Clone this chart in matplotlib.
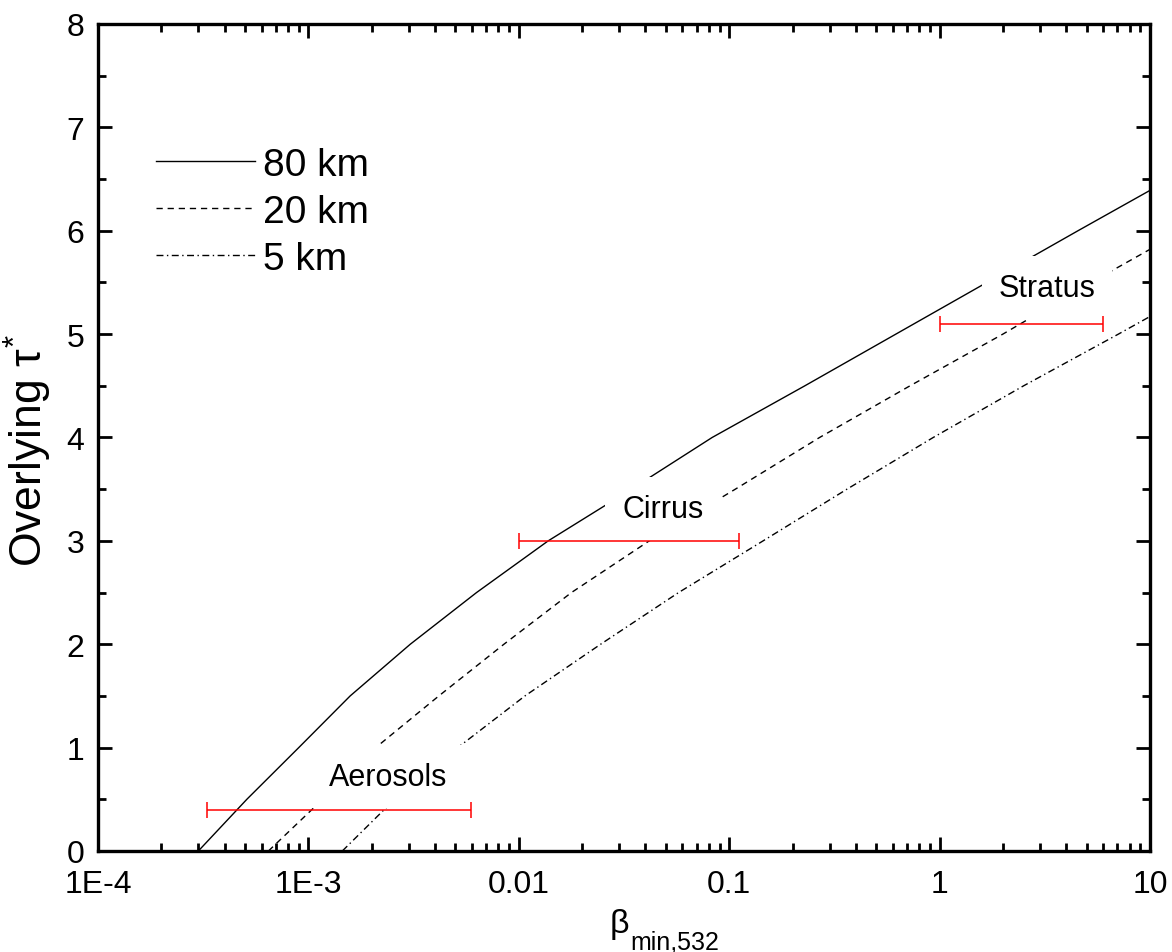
import matplotlib
matplotlib.use("Agg")
import matplotlib.pyplot as plt
from matplotlib.ticker import FixedLocator, FixedFormatter, LogLocator, MultipleLocator, NullFormatter

plt.rcParams['font.family'] = ['Liberation Sans', 'DejaVu Sans']
plt.rcParams['mathtext.fontset'] = 'custom'
plt.rcParams['mathtext.rm'] = 'Liberation Sans'
plt.rcParams['mathtext.it'] = 'Liberation Sans'
plt.rcParams['mathtext.bf'] = 'Liberation Sans:bold'

# Minimum detectable backscatter vs. overlying optical depth, for three altitudes
beta_80km = [3.0e-4, 5.1e-4, 9.0e-4, 1.58e-3, 3.05e-3, 6.3e-3, 1.38e-2, 3.43e-2, 8.3e-2, 0.229, 0.62, 4.55, 10.0]
tau_80km = [0.0, 0.5, 1.0, 1.5, 2.0, 2.5, 3.0, 3.5, 4.0, 4.5, 5.0, 6.0, 6.39]

beta_20km = [6.46e-4, 1.17e-3, 2.09e-3, 4.17e-3, 8.5e-3, 1.78e-2, 4.17e-2, 0.107, 0.269, 0.724, 2.0, 5.25, 10.0]
tau_20km = [0.0, 0.5, 1.0, 1.5, 2.0, 2.5, 3.0, 3.5, 4.0, 4.5, 5.0, 5.5, 5.82]

beta_5km = [1.45e-3, 2.57e-3, 5.13e-3, 1.07e-2, 2.45e-2, 5.75e-2, 0.145, 0.363, 0.933, 2.51, 7.08, 10.0]
tau_5km = [0.0, 0.5, 1.0, 1.5, 2.0, 2.5, 3.0, 3.5, 4.0, 4.5, 5.0, 5.17]

# Typical backscatter ranges of scatterer types
ranges = {
    'Aerosols': (3.3e-4, 5.9e-3, 0.4),
    'Cirrus': (0.01, 0.111, 3.0),
    'Stratus': (1.0, 6.0, 5.1),
}
label_pos = {
    'Aerosols': (2.39e-3, 0.72),
    'Cirrus': (0.0484, 3.31),
    'Stratus': (3.24, 5.45),
}

xtick_vals = [1e-4, 1e-3, 1e-2, 1e-1, 1, 10]
xtick_labels = ['1E-4', '1E-3', '0.01', '0.1', '1', '10']

W, H = 1172, 953
fig = plt.figure(figsize=(W / 100, H / 100), dpi=100)
ax = fig.add_axes([0.0836, 0.106, 0.8976, 0.8678])

ax.plot(beta_80km, tau_80km, color='black', lw=1.0, ls='-', label='80 km', zorder=2)
ax.plot(beta_20km, tau_20km, color='black', lw=1.0, ls=(0, (4.5, 3.5)), label='20 km', zorder=2)
ax.plot(beta_5km, tau_5km, color='black', lw=1.0, ls=(0, (5, 2.5, 1, 2.5)), label='5 km', zorder=2)

for name, (lo, hi, yv) in ranges.items():
    xc = (lo * hi) ** 0.5
    ax.errorbar([xc], [yv], xerr=[[xc - lo], [hi - xc]], fmt='none', ecolor='red',
                elinewidth=1.1, capsize=6, capthick=1.1, zorder=4)
    tx, ty = label_pos[name]
    ax.text(tx, ty, name, fontsize=22, ha='center', va='center', zorder=3,
            bbox=dict(boxstyle='square,pad=0.55', facecolor='white', edgecolor='none'))

ax.set_xscale('log')
ax.set_xlim(1e-4, 10)
ax.set_ylim(0, 8)

ax.xaxis.set_major_locator(FixedLocator(xtick_vals))
ax.xaxis.set_major_formatter(FixedFormatter(xtick_labels))
ax.xaxis.set_minor_locator(LogLocator(base=10, subs=range(2, 10), numticks=20))
ax.xaxis.set_minor_formatter(NullFormatter())
ax.yaxis.set_major_locator(MultipleLocator(1))
ax.yaxis.set_minor_locator(MultipleLocator(0.5))

ax.tick_params(which='both', direction='in', top=True, right=True, width=2.0)
ax.tick_params(which='major', length=10, labelsize=23)
ax.tick_params(axis='x', which='major', pad=13)
ax.tick_params(axis='y', which='major', pad=10)
ax.tick_params(which='minor', length=5.5)
for sp in ax.spines.values():
    sp.set_linewidth(2.4)

# x-axis title: beta with a lowered subscript
fig.text(610 / W, 1 - 933 / H, '\u03b2', fontsize=24.5, ha='left', va='baseline')
fig.text(630 / W, 1 - 950 / H, 'min,532', fontsize=18, ha='left', va='baseline')

# y-axis title
fig.text(28 / W, 1 - 450 / H, r'Overlying $\tau^{*}$', fontsize=32, rotation=90,
         ha='center', va='center')

ax.legend(loc='upper left', bbox_to_anchor=(0.04, 0.87), frameon=False, fontsize=28,
          handlelength=2.55, handletextpad=0.2, labelspacing=0.28, borderaxespad=0)

fig.savefig('out.png', dpi=100)
